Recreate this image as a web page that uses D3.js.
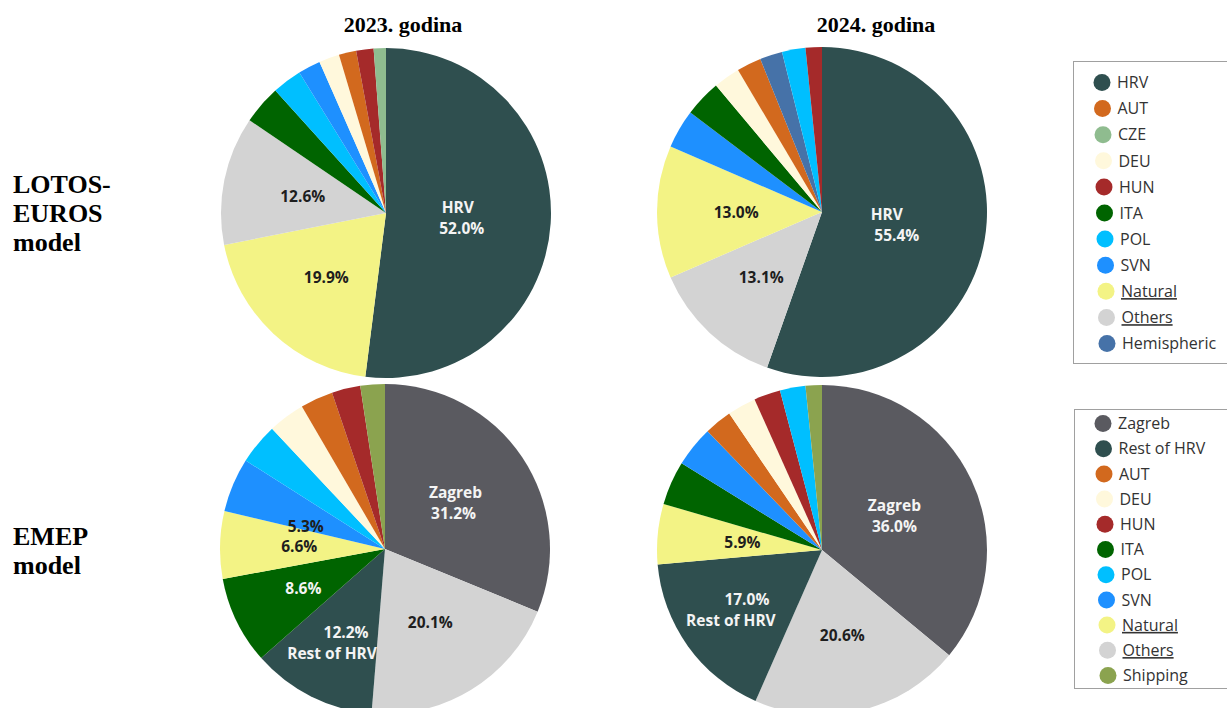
<!DOCTYPE html>
<html><head><meta charset="utf-8">
<script src="https://cdn.jsdelivr.net/npm/d3@7"></script>
<style>html,body{margin:0;padding:0;background:#fff;} svg{display:block}</style>
</head><body>
<svg id="chart" width="1227" height="708"></svg>
<script>
// ---------------- DATA ----------------
const yearTitles = ["2023. godina", "2024. godina"];
const modelLabels = [["LOTOS-", "EUROS", "model"], ["EMEP", "model"]];

const lotos2023Cats = ["HRV", "Natural", "Others", "ITA", "POL", "SVN", "DEU", "AUT", "HUN", "CZE"];
const lotos2023Vals = [52.0, 19.9, 12.6, 3.8, 2.9, 2.2, 2.0, 1.7, 1.7, 1.2];

const lotos2024Cats = ["HRV", "Others", "Natural", "SVN", "ITA", "DEU", "AUT", "Hemispheric", "POL", "HUN"];
const lotos2024Vals = [55.4, 13.1, 13.0, 3.8, 3.6, 2.6, 2.4, 2.2, 2.3, 1.6];

const emep2023Cats = ["Zagreb", "Others", "Rest of HRV", "ITA", "Natural", "SVN", "POL", "DEU", "AUT", "HUN", "Shipping"];
const emep2023Vals = [31.2, 20.1, 12.2, 8.6, 6.6, 5.3, 4.0, 3.6, 3.2, 2.8, 2.4];

const emep2024Cats = ["Zagreb", "Others", "Rest of HRV", "Natural", "ITA", "SVN", "AUT", "DEU", "HUN", "POL", "Shipping"];
const emep2024Vals = [36.0, 20.6, 17.0, 5.9, 4.3, 4.0, 2.7, 2.8, 2.6, 2.5, 1.6];

const lotosLegend = ["HRV", "AUT", "CZE", "DEU", "HUN", "ITA", "POL", "SVN", "Natural", "Others", "Hemispheric"];
const emepLegend = ["Zagreb", "Rest of HRV", "AUT", "DEU", "HUN", "ITA", "POL", "SVN", "Natural", "Others", "Shipping"];
const underlinedItems = ["Natural", "Others"];

// ---------------- STYLE / LAYOUT ----------------
const colors = {
  "HRV": "#2F4F4F", "Rest of HRV": "#2F4F4F", "Zagreb": "#5A5A60",
  "AUT": "#D2691E", "CZE": "#8FBC8F", "DEU": "#FFF8DC", "HUN": "#A52A2A",
  "ITA": "#006400", "POL": "#00BFFF", "SVN": "#1E90FF", "Natural": "#F3F385",
  "Others": "#D3D3D3", "Hemispheric": "#4672A8", "Shipping": "#8BA34F"
};
const W = "#F4F4F4", D = "#1E1E1E";
const R = 165;
const pies = [
  {cats: lotos2023Cats, vals: lotos2023Vals, cx: 386, cy: 213, labels: [
    {cat: "HRV", lines: ["name", "value"], frac: 0.46, fill: W, dx: [-4, 0]},
    {cat: "Natural", lines: ["value"], frac: 0.53, fill: D},
    {cat: "Others", lines: ["value"], frac: 0.515, fill: D}]},
  {cats: lotos2024Cats, vals: lotos2024Vals, cx: 822, cy: 212, labels: [
    {cat: "HRV", lines: ["name", "value"], frac: 0.46, fill: W, dx: [-10, 0]},
    {cat: "Others", lines: ["value"], frac: 0.54, fill: D},
    {cat: "Natural", lines: ["value"], frac: 0.52, fill: D}]},
  {cats: emep2023Cats, vals: emep2023Vals, cx: 385, cy: 549, labels: [
    {cat: "Zagreb", lines: ["name", "value"], frac: 0.5, fill: W, dx: [2, 0]},
    {cat: "Others", lines: ["value"], frac: 0.525, fill: D},
    {cat: "Rest of HRV", lines: ["value", "name"], frac: 0.635, fill: W, dx: [8, -6]},
    {cat: "ITA", lines: ["value"], frac: 0.55, fill: W},
    {cat: "Natural", lines: ["value"], frac: 0.52, fill: D},
    {cat: "SVN", lines: ["value"], frac: 0.5, fill: D, angle: 286}]},
  {cats: emep2024Cats, vals: emep2024Vals, cx: 822, cy: 550, labels: [
    {cat: "Zagreb", lines: ["name", "value"], frac: 0.485, fill: W},
    {cat: "Others", lines: ["value"], frac: 0.535, fill: D},
    {cat: "Rest of HRV", lines: ["value", "name"], frac: 0.62, fill: W, dx: [8, -8]},
    {cat: "Natural", lines: ["value"], frac: 0.485, fill: D}]}
];
const lineGap = 21;

const svg = d3.select("#chart");
const fmt = d3.format(".1f");
const pie = d3.pie().sort(null).value(d => d.v);
const arc = d3.arc().innerRadius(0).outerRadius(R);

pies.forEach(p => {
  const data = p.cats.map((c, i) => ({c, v: p.vals[i]}));
  const arcs = pie(data);
  const g = svg.append("g").attr("transform", `translate(${p.cx},${p.cy})`);
  g.selectAll("path").data(arcs).join("path")
    .attr("d", arc).attr("fill", d => colors[d.data.c]);
  p.labels.forEach(l => {
    const a = arcs.find(d => d.data.c === l.cat);
    const ang = l.angle != null ? l.angle * Math.PI / 180 : (a.startAngle + a.endAngle) / 2;
    const rr = l.frac * R;
    const x = Math.sin(ang) * rr, y = -Math.cos(ang) * rr;
    const n = l.lines.length;
    l.lines.forEach((ln, i) => {
      g.append("text").attr("text-anchor", "middle")
        .attr("font-family", "'Open Sans', sans-serif").attr("font-weight", 700)
        .attr("font-size", 15.5).attr("fill", l.fill)
        .attr("x", x + (l.dx ? l.dx[i] : 0))
        .attr("y", y + (i - (n - 1) / 2) * lineGap).attr("dy", "0.36em")
        .text(ln === "name" ? l.cat : fmt(a.data.v) + "%");
    });
  });
});

// titles
const titleX = [403, 876];
yearTitles.forEach((t, i) => {
  svg.append("text").attr("x", titleX[i]).attr("y", 32).attr("text-anchor", "middle")
    .attr("font-family", "'Liberation Serif', 'Times New Roman', serif").attr("font-weight", 700)
    .attr("font-size", 22).attr("fill", "#000").text(t);
});
const rowY = [193, 545];
modelLabels.forEach((lines, i) => {
  lines.forEach((ln, j) => svg.append("text")
    .attr("font-family", "'Liberation Serif', 'Times New Roman', serif")
    .attr("font-weight", 700).attr("font-size", 26).attr("fill", "#000")
    .attr("x", 13).attr("y", rowY[i] + j * 29).text(ln));
});

// legends
function legend(items, box, y0, step) {
  svg.append("rect").attr("x", box.x + 0.5).attr("y", box.y + 0.5).attr("width", box.w).attr("height", box.h)
    .attr("fill", "#fff").attr("stroke", "#A0A0A0").attr("stroke-width", 1);
  const y = d3.scalePoint().domain(items).range([y0, y0 + step * (items.length - 1)]);
  items.forEach((it, i) => {
    const cx = box.x + 29 + i * 0.5;
    svg.append("circle").attr("cx", cx).attr("cy", y(it)).attr("r", 8.5).attr("fill", colors[it]);
    svg.append("text").attr("x", cx + 15).attr("y", y(it)).attr("dy", "0.36em")
      .attr("font-family", "'Open Sans', sans-serif").attr("font-size", 16).attr("fill", "#333")
      .attr("text-decoration", underlinedItems.includes(it) ? "underline" : null)
      .text(it);
  });
}
legend(lotosLegend, {x: 1073, y: 61, w: 170, h: 302}, 82.5, 26.1);
legend(emepLegend, {x: 1074, y: 409, w: 170, h: 279}, 423.5, 25.2);
</script>
</body></html>
